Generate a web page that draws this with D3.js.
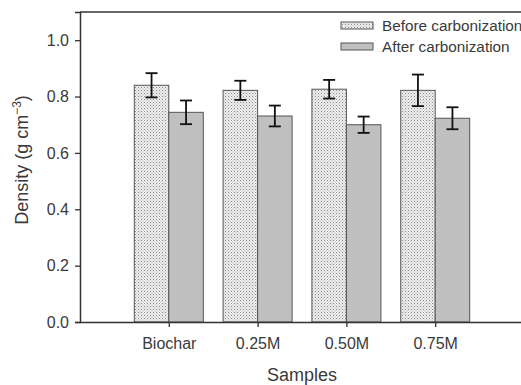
<!DOCTYPE html>
<html><head><meta charset="utf-8">
<script src="https://cdn.jsdelivr.net/npm/d3@7"></script>
<style>body{margin:0;background:#fff}svg{display:block}</style>
</head><body>
<svg id="c" width="521" height="385"></svg>
<script>
const categories = ["Biochar", "0.25M", "0.50M", "0.75M"];
const seriesNames = ["Before carbonization", "After carbonization"];
const beforeVals = [0.840, 0.822, 0.826, 0.822];
const beforeErr  = [0.043, 0.034, 0.033, 0.056];
const afterVals  = [0.744, 0.731, 0.700, 0.723];
const afterErr   = [0.042, 0.037, 0.029, 0.039];
const yTicks = [0.0, 0.2, 0.4, 0.6, 0.8, 1.0];

const svg = d3.select("#c");
const defs = svg.append("defs");
const pat = defs.append("pattern").attr("id","dots").attr("patternUnits","userSpaceOnUse")
  .attr("width",3).attr("height",3);
pat.append("rect").attr("width",3).attr("height",3).attr("fill","#eeeeee");
pat.append("rect").attr("x",0).attr("y",0).attr("width",1).attr("height",1).attr("fill","#8a8a8a");
pat.append("rect").attr("x",1.5).attr("y",1.5).attr("width",1).attr("height",1).attr("fill","#aaaaaa");

const mLeft = 80, mTop = 12, mBottom = 322;
const y = d3.scaleLinear().domain([0, 1.1]).range([mBottom, mTop]);
// categories at positions 1..4 on a 0..5 axis
const x = d3.scaleLinear().domain([0, 5]).range([mLeft, mLeft + 5 * 88.8]);
const barW = 34.5;

const font = "Arial, 'Liberation Sans', sans-serif";
const axisCol = "#333";
const textCol = "#3a3a3a";

// bars
const groups = [
  {vals: beforeVals, err: beforeErr, fill: "url(#dots)", off: -1},
  {vals: afterVals, err: afterErr, fill: "#c0c0c0", off: 0}
];
groups.forEach(g => {
  svg.append("g").selectAll("rect").data(categories).join("rect")
    .attr("x", (d,i) => x(i+1) + g.off*barW)
    .attr("y", (d,i) => y(g.vals[i]))
    .attr("width", barW)
    .attr("height", (d,i) => y(0) - y(g.vals[i]))
    .attr("fill", g.fill)
    .attr("stroke", "#555").attr("stroke-width", 1);
});
// error bars
groups.forEach(g => {
  const eg = svg.append("g").attr("stroke","#111").attr("stroke-width",1.8);
  categories.forEach((c,i) => {
    const cx = x(i+1) + g.off*barW + barW/2;
    const y1 = y(g.vals[i] + g.err[i]), y2 = y(g.vals[i] - g.err[i]);
    eg.append("line").attr("x1",cx).attr("x2",cx).attr("y1",y1).attr("y2",y2);
    eg.append("line").attr("x1",cx-6).attr("x2",cx+6).attr("y1",y1).attr("y2",y1);
    eg.append("line").attr("x1",cx-6).attr("x2",cx+6).attr("y1",y2).attr("y2",y2);
  });
});

// top frame line
svg.append("line").attr("x1",mLeft).attr("x2",521).attr("y1",mTop).attr("y2",mTop)
  .attr("stroke",axisCol).attr("stroke-width",1.5);

// y axis
const yAxis = svg.append("g").attr("transform",`translate(${mLeft},0)`)
  .call(d3.axisLeft(y).tickValues(yTicks).tickFormat(d3.format(".1f")).tickSize(5).tickPadding(6));
yAxis.select(".domain").attr("stroke",axisCol).attr("stroke-width",1.5);
yAxis.selectAll(".tick line").attr("stroke",axisCol).attr("stroke-width",1.3);
yAxis.selectAll("text").attr("font-family",font).attr("font-size",16).attr("fill",textCol);

// x axis
const xAxis = svg.append("g").attr("transform",`translate(0,${mBottom})`)
  .call(d3.axisBottom(x).tickValues([1,2,3,4]).tickFormat(d => categories[d-1]).tickSize(5).tickSizeOuter(0).tickPadding(11));
xAxis.select(".domain").attr("stroke",axisCol).attr("stroke-width",1.5);
xAxis.selectAll(".tick line").attr("stroke",axisCol).attr("stroke-width",1.3);
xAxis.selectAll("text").attr("font-family",font).attr("font-size",16).attr("fill",textCol);

// axis titles
svg.append("text").attr("x", 302).attr("y", 381).attr("text-anchor","middle")
  .attr("font-family",font).attr("font-size",18).attr("fill",textCol).text("Samples");
const yl = svg.append("text").attr("transform","translate(28,160) rotate(-90)").attr("text-anchor","middle")
  .attr("font-family",font).attr("font-size",18).attr("fill",textCol);
yl.append("tspan").text("Density (g cm");
yl.append("tspan").attr("dy",-7).attr("font-size",12).text("\u22123");
yl.append("tspan").attr("dy",7).text(")");

// legend
const leg = svg.append("g");
const legFills = ["url(#dots)", "#c0c0c0"];
seriesNames.forEach((n,i) => {
  const ly = 22 + i*21;
  leg.append("rect").attr("x",341).attr("y",ly).attr("width",32).attr("height",7)
    .attr("fill",legFills[i]).attr("stroke","#555").attr("stroke-width",1);
  leg.append("text").attr("x",382).attr("y",ly+8.5).attr("font-family",font).attr("font-size",15.3)
    .attr("fill",textCol).text(n);
});
</script>
</body></html>
